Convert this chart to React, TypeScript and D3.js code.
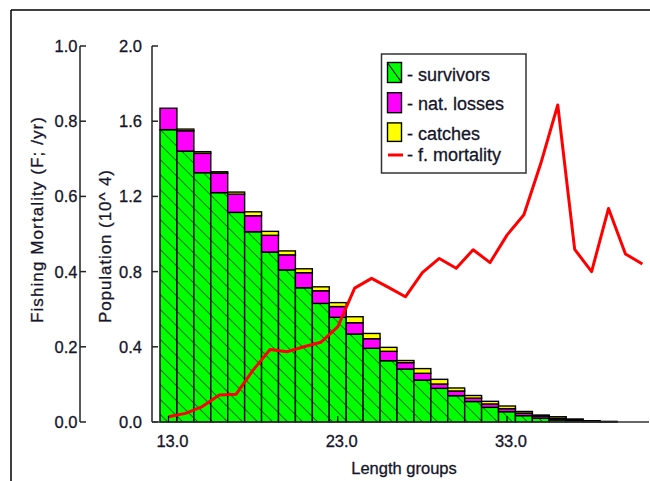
import React from 'react';
import * as d3 from 'd3';

// Length groups (cm) and the population split per group (in 10^4 fish)
const lengthGroups = [13, 14, 15, 16, 17, 18, 19, 20, 21, 22, 23, 24, 25, 26, 27, 28, 29, 30, 31, 32, 33, 34, 35, 36, 37, 38, 39, 40, 41];
const survivors = [1.555, 1.441, 1.326, 1.22, 1.115, 1.012, 0.904, 0.809, 0.714, 0.631, 0.557, 0.468, 0.392, 0.326, 0.282, 0.223, 0.179, 0.14, 0.109, 0.078, 0.055, 0.034, 0.02, 0.011, 0.006, 0.002, 0.001, 0, 0];
const natLosses = [0.114, 0.108, 0.103, 0.103, 0.097, 0.085, 0.089, 0.08, 0.08, 0.067, 0.057, 0.06, 0.051, 0.05, 0.034, 0.036, 0.023, 0.025, 0.018, 0.018, 0.016, 0.013, 0.01, 0.008, 0.005, 0.002, 0.001, 0, 0];
const catches = [0, 0.009, 0.009, 0.008, 0.011, 0.021, 0.021, 0.021, 0.021, 0.021, 0.021, 0.032, 0.028, 0.021, 0.011, 0.025, 0.025, 0.016, 0.014, 0.014, 0.014, 0.009, 0.007, 0.009, 0.005, 0.003, 0.001, 0, 0];
// Fishing mortality F (per year) for each length group
const fMortality = [0.014, 0.023, 0.041, 0.072, 0.074, 0.138, 0.193, 0.187, 0.2, 0.212, 0.253, 0.356, 0.382, 0.358, 0.333, 0.397, 0.435, 0.409, 0.458, 0.424, 0.497, 0.551, 0.688, 0.843, 0.459, 0.4, 0.568, 0.447, 0.42];

const popTicks = [0, 0.4, 0.8, 1.2, 1.6, 2.0];
const fTicks = [0, 0.2, 0.4, 0.6, 0.8, 1.0];
const lengthTicks = [13, 23, 33];

const seriesKeys = ['survivors', 'natLosses', 'catches'];
const seriesFill: Record<string, string> = { survivors: '#00ff00', natLosses: '#ff00ff', catches: '#ffff00' };
const legendItems = [
  { key: 'survivors', label: '- survivors' },
  { key: 'natLosses', label: '- nat. losses' },
  { key: 'catches', label: '- catches' },
];

const FONT = "'Liberation Sans', Arial, sans-serif";
const TEXT = '#15152a';
const textStyle = { stroke: TEXT, strokeWidth: 0.3 };

export default function App() {
  const W = 650;
  const H = 481;
  const x = d3.scaleLinear().domain([13, 40]).range([160, 617]);
  const yPop = d3.scaleLinear().domain([0, 2]).range([422, 46]);
  const yF = d3.scaleLinear().domain([0, 1]).range([422, 46]);
  const bw = x(14) - x(13);

  const rows = lengthGroups.map((L, i) => ({
    L,
    survivors: survivors[i],
    natLosses: natLosses[i],
    catches: catches[i],
  }));
  const stacked = d3.stack<any>().keys(seriesKeys)(rows);

  const fLine = d3
    .line<number>()
    .x((_, i) => x(lengthGroups[i] + 0.5))
    .y((d) => yF(d));

  const axisF = 80;
  const axisPop = 152;
  const baseY = yPop(0);

  return (
    <svg width={W} height={H} style={{ position: 'absolute', left: 0, top: 0, background: '#fff' }}>
      <defs>
        <pattern id="hatch" patternUnits="userSpaceOnUse" width={10.6} height={10.6} patternTransform="rotate(-45)">
          <line x1={0} y1={0} x2={0} y2={10.6} stroke="#000" strokeWidth={1.1} />
        </pattern>
      </defs>

      {/* frame */}
      <line x1={11} y1={10} x2={W} y2={10} stroke="#000" strokeWidth={1.5} />
      <line x1={11} y1={10} x2={11} y2={H} stroke="#000" strokeWidth={1.5} />

      {/* stacked bars */}
      {stacked.map((s) => (
        <g key={s.key}>
          {s.map((d, i) => {
            const y0 = yPop(d[0]);
            const y1 = yPop(d[1]);
            const h = y0 - y1;
            if (h <= 0) return null;
            const bx = x(lengthGroups[i]);
            return (
              <g key={i}>
                <rect x={bx} y={y1} width={bw} height={h} fill={seriesFill[s.key]} />
                {s.key === 'survivors' && <rect x={bx} y={y1} width={bw} height={h} fill="url(#hatch)" />}
                <rect x={bx} y={y1} width={bw} height={h} fill="none" stroke="#000" strokeWidth={1.4} />
              </g>
            );
          })}
        </g>
      ))}

      {/* fishing mortality line */}
      <path d={fLine(fMortality) || ''} fill="none" stroke="#ff0000" strokeWidth={3} strokeLinejoin="round" />

      {/* F axis */}
      <line x1={axisF} y1={yF(1)} x2={axisF} y2={yF(0)} stroke="#222" strokeWidth={1.5} />
      {fTicks.map((t) => (
        <g key={'f' + t}>
          <line x1={axisF} x2={axisF + 6} y1={yF(t)} y2={yF(t)} stroke="#222" strokeWidth={1.5} />
          <text x={axisF - 2.5} y={yF(t) + 6} textAnchor="end" fontFamily={FONT} fontSize={16.5} fill={TEXT} style={textStyle}>
            {t.toFixed(1)}
          </text>
        </g>
      ))}
      <text
        transform={`translate(43,323) rotate(-90)`}
        fontFamily={FONT}
        fontSize={17}
        fill={TEXT}
        style={textStyle}
        textLength={206}
        lengthAdjust="spacing"
      >
        Fishing Mortality (F; /yr)
      </text>

      {/* population axis */}
      <line x1={axisPop} y1={yPop(2)} x2={axisPop} y2={baseY} stroke="#222" strokeWidth={1.5} />
      {popTicks.map((t) => (
        <g key={'p' + t}>
          <line x1={axisPop} x2={axisPop + 6} y1={yPop(t)} y2={yPop(t)} stroke="#222" strokeWidth={1.5} />
          <text x={axisPop - 10} y={yPop(t) + 6} textAnchor="end" fontFamily={FONT} fontSize={16.5} fill={TEXT} style={textStyle}>
            {t.toFixed(1)}
          </text>
        </g>
      ))}
      <text
        transform={`translate(111,323) rotate(-90)`}
        fontFamily={FONT}
        fontSize={17}
        fill={TEXT}
        style={textStyle}
        textLength={153}
        lengthAdjust="spacing"
      >
        Population (10^ 4)
      </text>

      {/* length axis */}
      <line x1={axisPop} y1={baseY} x2={649} y2={baseY} stroke="#333" strokeWidth={1.5} />
      {lengthTicks.map((t) => (
        <g key={'l' + t}>
          <line x1={x(t + 0.5)} x2={x(t + 0.5)} y1={baseY} y2={baseY - 6} stroke="#000" strokeWidth={1.2} />
          <text x={x(t + 0.5) + 4} y={447} textAnchor="middle" fontFamily={FONT} fontSize={16.5} fill={TEXT} style={textStyle}>
            {t.toFixed(1)}
          </text>
        </g>
      ))}
      <text x={404} y={474} textAnchor="middle" fontFamily={FONT} fontSize={16.5} fill={TEXT} style={textStyle}>
        Length groups
      </text>

      {/* legend */}
      <rect x={381.5} y={54} width={144.5} height={119} fill="#fff" stroke="#333" strokeWidth={1.5} />
      {legendItems.map((it, i) => {
        const sy = 62.5 + i * 30.2;
        const sh = i === 2 ? 18.5 : 20;
        return (
          <g key={it.key}>
            <rect x={387.5} y={sy} width={14} height={sh} fill={seriesFill[it.key]} stroke="#000" strokeWidth={1.4} />
            {it.key === 'survivors' && (
              <line x1={388} y1={sy + 1} x2={401} y2={sy + sh - 1} stroke="#000" strokeWidth={1.1} />
            )}
            <text x={407} y={80.5 + i * 29.5} fontFamily={FONT} fontSize={18} fill={TEXT} style={textStyle}>
              {it.label}
            </text>
          </g>
        );
      })}
      <line x1={388} x2={403} y1={155} y2={155} stroke="#ff0000" strokeWidth={3} />
      <text x={407} y={161} fontFamily={FONT} fontSize={18} fill={TEXT} style={textStyle}>
        - f. mortality
      </text>
    </svg>
  );
}
